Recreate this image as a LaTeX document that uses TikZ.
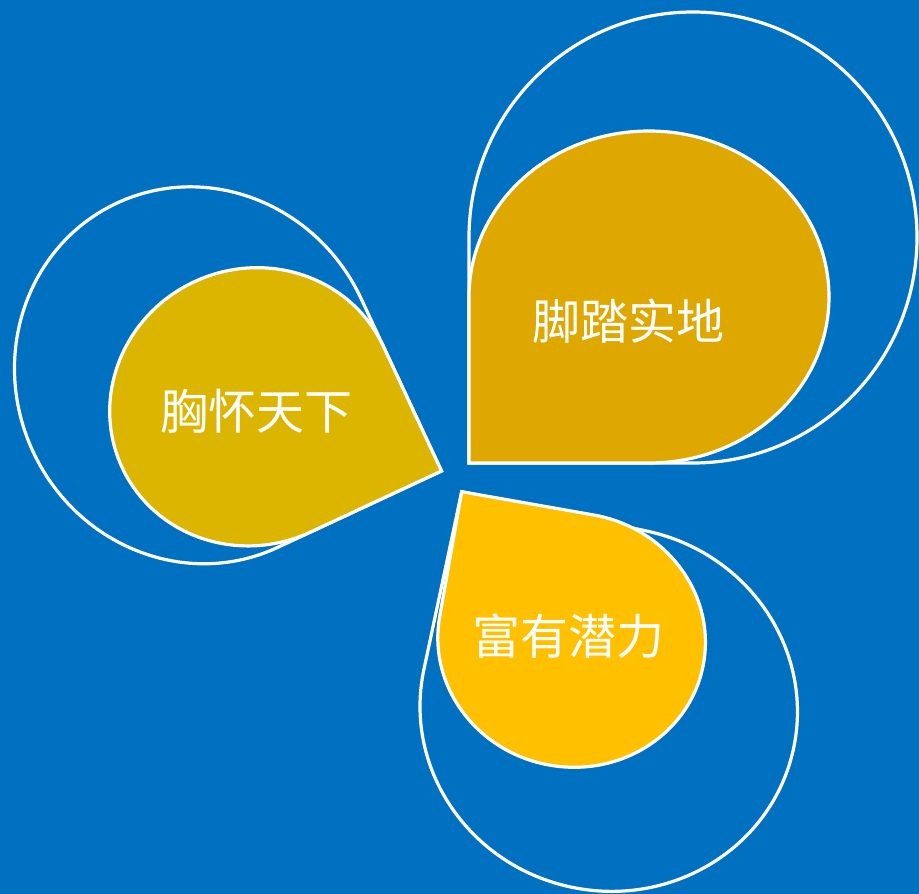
\documentclass[tikz,border=0pt]{standalone}
\usepackage{fontspec}
\newfontfamily\cjkfont{Noto Sans CJK SC}

\definecolor{bgblue}{HTML}{0070C0}
\definecolor{ochre}{HTML}{DBB500}
\definecolor{amber}{HTML}{DFA800}
\definecolor{gold}{HTML}{FFC000}

% teardrop with its corner at #2, first edge at angle #3, radii #4 and #5
\newcommand{\teardrop}[5][]{%
  \begin{scope}[shift={(#2)}, rotate={-(#3)}]
    \draw[#1] (0,0) -- (#4,0) arc[start angle=270, end angle=540, x radius=#4, y radius=#5] -- cycle;
  \end{scope}}

\begin{document}
\begin{tikzpicture}[x=1pt, y=-1pt,
    rim/.style={draw=white, line width=3.2pt},
    petal/.style={draw=white, line width=3.2pt, fill=#1},
    droptext/.style={text=white, font=\cjkfont\fontsize{48}{58}\selectfont}
  ]
  % background
  \fill[bgblue] (0,0) rectangle (919,894);
  \useasboundingbox (0,0) rectangle (919,894);

  \coordinate (tipN) at (469,463);
  \coordinate (tipW) at (441.5,471);
  \coordinate (tipS) at (461.7,491.7);

  % outer rims
  \teardrop[rim]{tipN}{-90}{225.5}{224}
  \teardrop[rim]{tipW}{155}{181}{190}
  \teardrop[rim]{tipS}{12}{189}{182}
  % filled drops
  \teardrop[petal=amber]{tipN}{-90}{166}{180}
  \teardrop[petal=ochre]{tipW}{155}{144}{138}
  \teardrop[petal=gold]{tipS}{10}{134}{127}

  \node[droptext] (earth) at (628,321) {脚踏实地};
  \node[droptext] (world) at (256,411) {胸怀天下};
  \node[droptext] (power) at (568,636.5) {富有潜力};
\end{tikzpicture}
\end{document}
